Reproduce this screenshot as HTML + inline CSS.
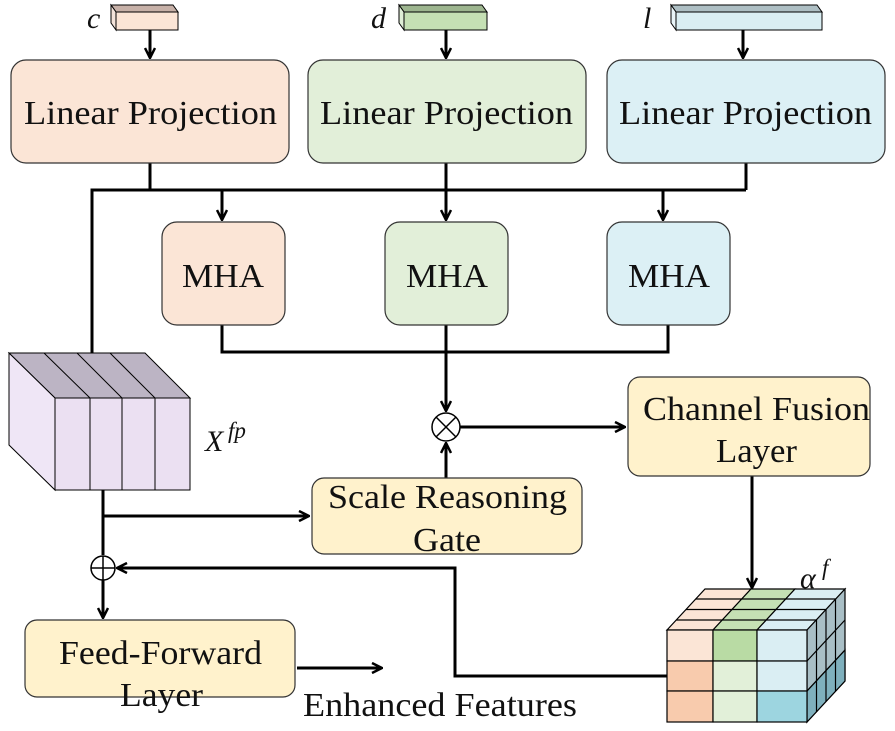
<!DOCTYPE html>
<html><head><meta charset="utf-8"><style>
html,body{margin:0;padding:0;background:#fff;}
svg{display:block;}
text{font-family:"Liberation Serif","DejaVu Serif",serif;fill:#111;}
</style></head><body>
<svg width="895" height="731" viewBox="0 0 895 731" xmlns="http://www.w3.org/2000/svg" font-family="Liberation Serif, DejaVu Serif, serif">
<defs>
<marker id="a" viewBox="0 0 12 12" refX="11" refY="6" markerWidth="12" markerHeight="12" markerUnits="userSpaceOnUse" orient="auto">
<path d="M1,1 L11,6 L1,11" fill="none" stroke="#000" stroke-width="2.5"/>
</marker>
</defs>
<g stroke="#000" stroke-width="1">
<polygon points="116,12 111,5 173,5 178,12" fill="#c7b1a8"/>
<polygon points="116,12 111,5 111,23 116,30" fill="#f3e3da"/>
<rect x="116" y="12" width="62" height="18" fill="#fbe5d6"/>
<polygon points="404,12 399,5 482,5 487,12" fill="#9db58f"/>
<polygon points="404,12 399,5 399,23 404,30" fill="#dfeed6"/>
<rect x="404" y="12" width="83" height="18" fill="#c5e0b4"/>
<polygon points="676,12 671,5 817,5 822,12" fill="#aebfc4"/>
<polygon points="676,12 671,5 671,23 676,30" fill="#e8f4f8"/>
<rect x="676" y="12" width="146" height="18" fill="#daeef3"/>
</g>
<g fill="none" stroke="#000" stroke-width="3">
<line x1="150" y1="30" x2="150" y2="58" marker-end="url(#a)"/>
<line x1="446" y1="30" x2="446" y2="58" marker-end="url(#a)"/>
<line x1="743" y1="30" x2="743" y2="58" marker-end="url(#a)"/>
<polyline points="150,163 150,190"/>
<polyline points="746,163 746,190"/>
<polyline points="92,353 92,190 746,190"/>
<line x1="446" y1="163" x2="446" y2="220" marker-end="url(#a)"/>
<line x1="222" y1="190" x2="222" y2="220" marker-end="url(#a)"/>
<line x1="663" y1="190" x2="663" y2="220" marker-end="url(#a)"/>
<polyline points="222,325 222,352 668,352 668,325"/>
<line x1="446" y1="325" x2="446" y2="411" marker-end="url(#a)"/>
<line x1="460" y1="427" x2="625" y2="427" marker-end="url(#a)"/>
<line x1="446" y1="478" x2="446" y2="443" marker-end="url(#a)"/>
<line x1="752" y1="476" x2="752" y2="588" marker-end="url(#a)"/>
<line x1="103" y1="490" x2="103" y2="555"/>
<line x1="103" y1="516" x2="309" y2="516" marker-end="url(#a)"/>
<line x1="103" y1="580" x2="103" y2="618" marker-end="url(#a)"/>
<polyline points="667,676 455,676 455,568 117,568" marker-end="url(#a)"/>
<line x1="297" y1="668" x2="382" y2="668" marker-end="url(#a)"/>
</g>
<g fill="#fff" stroke="#000" stroke-width="1.5">
<circle cx="446" cy="427" r="14"/>
<line x1="436" y1="417" x2="456" y2="437"/><line x1="456" y1="417" x2="436" y2="437"/>
<circle cx="103" cy="568" r="12"/>
<line x1="91" y1="568" x2="115" y2="568"/><line x1="103" y1="556" x2="103" y2="580"/>
</g>
<g stroke="#333" stroke-width="1.2">
<rect x="11" y="60" width="278" height="103" rx="15" fill="#fbe5d6"/>
<rect x="308" y="60" width="278" height="103" rx="15" fill="#e2efd9"/>
<rect x="607" y="60" width="278" height="103" rx="15" fill="#dcf0f5"/>
<rect x="162" y="222" width="123" height="103" rx="15" fill="#fbe5d6"/>
<rect x="385" y="222" width="123" height="103" rx="15" fill="#e2efd9"/>
<rect x="607" y="222" width="123" height="103" rx="15" fill="#dcf0f5"/>
<rect x="628" y="377" width="242" height="99" rx="12" fill="#fff2cc"/>
<rect x="312" y="478" width="270" height="76" rx="12" fill="#fff2cc"/>
<rect x="25" y="620" width="270" height="77" rx="12" fill="#fff2cc"/>
</g>
<g font-size="34" lengthAdjust="spacingAndGlyphs">
<text x="24" y="124" textLength="253" lengthAdjust="spacingAndGlyphs">Linear Projection</text>
<text x="320" y="124" textLength="253" lengthAdjust="spacingAndGlyphs">Linear Projection</text>
<text x="619" y="124" textLength="253" lengthAdjust="spacingAndGlyphs">Linear Projection</text>
<text x="182" y="287" textLength="82" lengthAdjust="spacingAndGlyphs">MHA</text>
<text x="406" y="287" textLength="82" lengthAdjust="spacingAndGlyphs">MHA</text>
<text x="628" y="287" textLength="82" lengthAdjust="spacingAndGlyphs">MHA</text>
<text x="643" y="420" textLength="227" lengthAdjust="spacingAndGlyphs">Channel Fusion</text>
<text x="716" y="462" textLength="81" lengthAdjust="spacingAndGlyphs">Layer</text>
<text x="328" y="508" textLength="239" lengthAdjust="spacingAndGlyphs">Scale Reasoning</text>
<text x="413" y="551" textLength="68" lengthAdjust="spacingAndGlyphs">Gate</text>
<text x="59" y="664" textLength="203" lengthAdjust="spacingAndGlyphs">Feed-Forward</text>
<text x="120" y="706" textLength="83" lengthAdjust="spacingAndGlyphs">Layer</text>
<text x="303" y="716" textLength="274" lengthAdjust="spacingAndGlyphs">Enhanced Features</text>
</g>
<g stroke="#000" stroke-width="1">
<polygon points="9,353 145,353 190,398 55,398" fill="#bcb4c4"/>
<polygon points="9,353 55,398 55,490 9,445" fill="#efe6f6"/>
<rect x="55" y="398" width="135" height="92" fill="#ebe0f2"/>
<line x1="90" y1="398" x2="90" y2="490"/><line x1="122" y1="398" x2="122" y2="490"/><line x1="155" y1="398" x2="155" y2="490"/>
<line x1="44" y1="353" x2="90" y2="398"/><line x1="77" y1="353" x2="122" y2="398"/><line x1="110" y1="353" x2="155" y2="398"/>
</g>
<g stroke="#000" stroke-width="1.2">
<polygon points="667,630 713,630 751,589 705,589" fill="#fbe5d6"/>
<polygon points="713,630 757,630 795,589 751,589" fill="#c5e0b4"/>
<polygon points="757,630 807,630 845,589 795,589" fill="#daeef3"/>
<line x1="676.5" y1="620" x2="816.5" y2="620"/>
<line x1="686" y1="609.5" x2="826" y2="609.5"/>
<line x1="695.5" y1="599" x2="835.5" y2="599"/>
<polygon points="807,630 845,589 845,681 807,722" fill="#a9bfc6"/>
<polygon points="807,691 845,650 845,681 807,722" fill="#7fb0bd"/>
<line x1="807" y1="661" x2="845" y2="620"/>
<line x1="807" y1="691" x2="845" y2="650"/>
<line x1="816.5" y1="620" x2="816.5" y2="712"/>
<line x1="826" y1="609.5" x2="826" y2="701.5"/>
<line x1="835.5" y1="599" x2="835.5" y2="691"/>
<rect x="667" y="630" width="46" height="31" fill="#fbe5d6"/>
<rect x="667" y="661" width="46" height="30" fill="#f8cbad"/>
<rect x="667" y="691" width="46" height="31" fill="#f8cbad"/>
<rect x="713" y="630" width="44" height="31" fill="#b9dba4"/>
<rect x="713" y="661" width="44" height="30" fill="#e2f0d9"/>
<rect x="713" y="691" width="44" height="31" fill="#e2f0d9"/>
<rect x="757" y="630" width="50" height="31" fill="#daeef3"/>
<rect x="757" y="661" width="50" height="30" fill="#daeef3"/>
<rect x="757" y="691" width="50" height="31" fill="#9dd5e0"/>
</g>
<g font-size="30" font-style="italic">
<text x="87" y="28">c</text>
<text x="371" y="28">d</text>
<text x="643" y="28">l</text>
<text x="205" y="451">X</text><text x="228" y="438" font-size="23">fp</text>
<text x="800" y="588">α</text><text x="822" y="575" font-size="23">f</text>
</g>
</svg>
</body></html>
